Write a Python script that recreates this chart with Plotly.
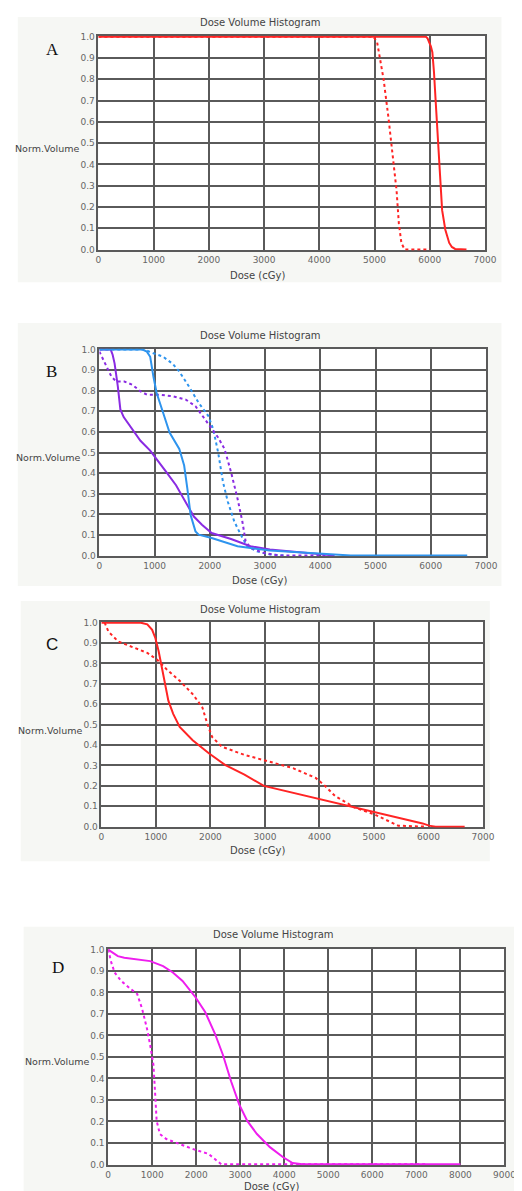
import plotly.graph_objects as go

W, H = 522, 1191

# ---------------- data ----------------
# Panel A
a_solid_x = [0, 5930, 5960, 5990, 6020, 6047, 6076, 6118, 6153, 6182, 6224, 6282, 6353, 6400, 6459, 6665]
a_solid_y = [1.0, 1.0, 0.992, 0.974, 0.955, 0.927, 0.835, 0.649, 0.495, 0.34, 0.185, 0.093, 0.031, 0.012, 0.003, 0.0]
a_dot_x = [0, 4980, 5047, 5164, 5252, 5340, 5399, 5440, 5487, 5546, 6000]
a_dot_y = [1.0, 1.0, 0.974, 0.80, 0.62, 0.43, 0.278, 0.124, 0.03, 0.0, 0.0]

# Panel B
b_blue_x = [0, 780, 860, 920, 978, 1037, 1154, 1271, 1447, 1535, 1593, 1652, 1740, 1798, 2033, 2501, 3087, 3673, 4259, 4552, 6661]
b_blue_y = [1.0, 1.0, 0.99, 0.965, 0.869, 0.789, 0.693, 0.597, 0.517, 0.437, 0.325, 0.197, 0.117, 0.101, 0.085, 0.045, 0.024, 0.013, 0.005, 0.0, 0.0]
b_purple_x = [0, 205, 240, 275, 334, 380, 440, 510, 627, 744, 920, 1037, 1213, 1388, 1564, 1711, 1857, 2033, 2384, 2736, 3087, 3673, 4259]
b_purple_y = [1.0, 1.0, 0.975, 0.933, 0.821, 0.709, 0.672, 0.645, 0.597, 0.557, 0.509, 0.469, 0.405, 0.341, 0.261, 0.189, 0.149, 0.109, 0.08, 0.045, 0.029, 0.013, 0.0]
b_blue_dot_x = [0, 810, 978, 1154, 1330, 1447, 1623, 1798, 1974, 2062, 2150, 2238, 2326, 2443, 2560, 2677, 2853, 3087, 3380]
b_blue_dot_y = [1.0, 1.0, 0.982, 0.965, 0.93, 0.893, 0.82, 0.741, 0.677, 0.613, 0.501, 0.357, 0.261, 0.165, 0.101, 0.045, 0.02, 0.005, 0.0]
b_purple_dot_x = [0, 100, 217, 305, 451, 598, 744, 861, 1095, 1330, 1564, 1740, 1916, 2033, 2150, 2267, 2384, 2501, 2589, 2648, 2736, 2970, 3263, 4259]
b_purple_dot_y = [0.99, 0.933, 0.869, 0.845, 0.845, 0.829, 0.797, 0.781, 0.781, 0.773, 0.757, 0.725, 0.661, 0.621, 0.573, 0.517, 0.405, 0.277, 0.165, 0.069, 0.037, 0.013, 0.0, 0.0]

# Panel C
c_solid_x = [0, 724, 843, 932, 992, 1051, 1111, 1170, 1229, 1318, 1437, 1675, 1972, 2268, 2625, 2981, 3397, 3990, 4584, 5000, 5475, 5891, 6010, 6128, 6663]
c_solid_y = [1.0, 1.0, 0.992, 0.965, 0.924, 0.86, 0.779, 0.698, 0.618, 0.553, 0.489, 0.424, 0.36, 0.303, 0.255, 0.2, 0.174, 0.134, 0.10, 0.073, 0.045, 0.016, 0.005, 0.0, 0.0]
c_dot_x = [60, 131, 309, 606, 843, 1021, 1200, 1437, 1675, 1853, 1942, 2031, 2209, 2625, 3100, 3515, 3931, 4109, 4287, 4644, 5000, 5238, 5445, 5950]
c_dot_y = [1.0, 0.956, 0.908, 0.876, 0.852, 0.819, 0.771, 0.715, 0.65, 0.585, 0.505, 0.44, 0.392, 0.352, 0.319, 0.287, 0.239, 0.198, 0.15, 0.094, 0.061, 0.029, 0.005, 0.0]

# Panel D
d_solid_x = [0, 110, 220, 367, 735, 955, 1249, 1470, 1690, 1984, 2204, 2425, 2608, 2792, 2976, 3160, 3380, 3674, 3968, 4188, 4409, 8000]
d_solid_y = [1.0, 0.985, 0.969, 0.962, 0.954, 0.946, 0.923, 0.893, 0.854, 0.778, 0.709, 0.609, 0.509, 0.387, 0.279, 0.202, 0.141, 0.08, 0.034, 0.006, 0.0, 0.0]
d_dot_x = [0, 73, 147, 294, 514, 661, 772, 882, 955, 1029, 1065, 1102, 1176, 1322, 1617, 1984, 2278, 2498, 2572, 7200]
d_dot_y = [1.0, 0.939, 0.893, 0.854, 0.816, 0.793, 0.724, 0.632, 0.555, 0.463, 0.34, 0.202, 0.141, 0.118, 0.095, 0.067, 0.049, 0.011, 0.0, 0.0]

y_ticks = [0.0, 0.1, 0.2, 0.3, 0.4, 0.5, 0.6, 0.7, 0.8, 0.9, 1.0]
y_tick_text = ["0.0", "0.1", "0.2", "0.3", "0.4", "0.5", "0.6", "0.7", "0.8", "0.9", "1.0"]
x_ticks_7000 = [0, 1000, 2000, 3000, 4000, 5000, 6000, 7000]
x_ticks_9000 = [0, 1000, 2000, 3000, 4000, 5000, 6000, 7000, 8000, 9000]

panel_letters = ["A", "B", "C", "D"]
title_text = "Dose Volume Histogram"
xlabel_text = "Dose (cGy)"
ylabel_text = "Norm.Volume"

RED = "#ff2424"
BLUE = "#2e94ee"
PURPLE = "#8a2be2"
MAGENTA = "#ee1eee"

# ---------------- layout geometry (pixels) ----------------
def px_x(p):
    return p / W

def px_y(p):
    return 1 - p / H

panels = [
    dict(plot=(90, 488, 24, 240), bg=(7, 505, 5, 272), ty=11, xly=265, yl=(72, 137), let=(43, 38), xmax=7000, ticks=x_ticks_7000, tx=257, xlx=254, lfont="Liberation Serif"),
    dict(plot=(91, 489, 339, 548), bg=(7, 505, 313, 578), ty=326, xly=572, yl=(73, 449), let=(42, 362), xmax=7000, ticks=x_ticks_7000, tx=257, xlx=256, lfont="Liberation Serif"),
    dict(plot=(93, 486, 614, 821), bg=(10, 493, 593, 855), ty=602, xly=844, yl=(75, 723), let=(42, 637), xmax=7000, ticks=x_ticks_7000, tx=257, xlx=254, lfont="Liberation Sans"),
    dict(plot=(100, 508, 943, 1161), bg=(13, 522, 921, 1191), ty=929, xly=1182, yl=(82, 1057), let=(48, 962), xmax=9000, ticks=x_ticks_9000, tx=270, xlx=268, lfont="Liberation Serif"),
]

series = [
    [(a_solid_x, a_solid_y, RED, "solid"), (a_dot_x, a_dot_y, RED, "dot")],
    [(b_blue_dot_x, b_blue_dot_y, BLUE, "dot"), (b_purple_dot_x, b_purple_dot_y, PURPLE, "dot"),
     (b_purple_x, b_purple_y, PURPLE, "solid"), (b_blue_x, b_blue_y, BLUE, "solid")],
    [(c_dot_x, c_dot_y, RED, "dot"), (c_solid_x, c_solid_y, RED, "solid")],
    [(d_dot_x, d_dot_y, MAGENTA, "dot"), (d_solid_x, d_solid_y, MAGENTA, "solid")],
]

fig = go.Figure()
shapes = []
annotations = []
GRID = "#5a5a5a"
TXT = "#444444"

for i, p in enumerate(panels):
    n = "" if i == 0 else str(i + 1)
    xa, ya = "x" + n, "y" + n
    for xs, ys, col, dash in series[i]:
        fig.add_trace(go.Scatter(x=xs, y=ys, mode="lines", xaxis=xa, yaxis=ya,
                                 line=dict(color=col, width=2, dash=dash, shape="linear"),
                                 showlegend=False, hoverinfo="skip"))
    x0, x1, y0, y1 = p["plot"]
    fig.layout["xaxis" + n] = dict(
        domain=[px_x(x0), px_x(x1)], anchor=ya, range=[0, p["xmax"]],
        tickvals=p["ticks"], ticktext=[str(t) for t in p["ticks"]],
        showgrid=True, gridcolor=GRID, gridwidth=1.5,
        showline=True, linecolor=GRID, linewidth=1.5, mirror=True,
        ticks="", zeroline=False, layer="below traces",
        tickfont=dict(family="DejaVu Sans", size=9, color="#666666"),
        fixedrange=True,
    )
    fig.layout["yaxis" + n] = dict(
        domain=[px_y(y1), px_y(y0)], anchor=xa, range=[-0.004, 1.004],
        tickvals=y_ticks, ticktext=y_tick_text,
        showgrid=True, gridcolor=GRID, gridwidth=1.5,
        showline=True, linecolor=GRID, linewidth=1.5, mirror=True,
        ticks="", zeroline=False, layer="below traces",
        ticklabelstandoff=0,
        tickfont=dict(family="DejaVu Sans", size=9, color="#666666"),
        fixedrange=True,
    )
    bx0, bx1, by0, by1 = p["bg"]
    shapes.append(dict(type="rect", xref="paper", yref="paper", layer="below",
                       x0=px_x(bx0), x1=px_x(bx1), y0=px_y(by1), y1=px_y(by0),
                       fillcolor="#f6f7f4", line=dict(width=0)))
    shapes.append(dict(type="rect", xref="paper", yref="paper", layer="below",
                       x0=px_x(x0), x1=px_x(x1), y0=px_y(y1), y1=px_y(y0),
                       fillcolor="white", line=dict(width=0)))
    annotations.append(dict(text=title_text, xref="paper", yref="paper", x=px_x(p["tx"]), y=px_y(p["ty"]),
                            xanchor="center", yanchor="middle", showarrow=False,
                            font=dict(family="DejaVu Sans", size=10, color=TXT)))
    annotations.append(dict(text=xlabel_text, xref="paper", yref="paper", x=px_x(p["xlx"]), y=px_y(p["xly"]),
                            xanchor="center", yanchor="middle", showarrow=False,
                            font=dict(family="DejaVu Sans", size=10, color=TXT)))
    annotations.append(dict(text=ylabel_text, xref="paper", yref="paper", x=px_x(p["yl"][0]), y=px_y(p["yl"][1]),
                            xanchor="right", yanchor="middle", showarrow=False,
                            font=dict(family="DejaVu Sans", size=9.5, color=TXT)))
    annotations.append(dict(text=panel_letters[i], xref="paper", yref="paper", x=px_x(p["let"][0]), y=px_y(p["let"][1]),
                            xanchor="center", yanchor="middle", showarrow=False,
                            font=dict(family=p["lfont"], size=17, color="#111111")))

fig.update_layout(width=W, height=H, margin=dict(l=0, r=0, t=0, b=0),
                  paper_bgcolor="white", plot_bgcolor="white",
                  shapes=shapes, annotations=annotations, showlegend=False)

fig.write_html("out.html")
